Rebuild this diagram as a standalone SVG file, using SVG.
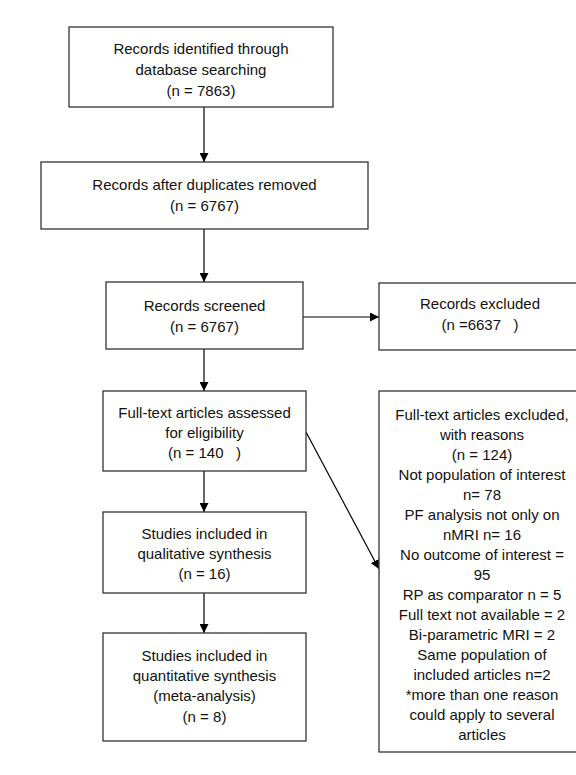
<svg xmlns="http://www.w3.org/2000/svg" width="576" height="775" viewBox="0 0 576 775">
<defs>
<marker id="ah" viewBox="0 0 10 10" refX="10" refY="5" markerWidth="9" markerHeight="9" markerUnits="userSpaceOnUse" orient="auto">
<path d="M0,0 L10,5 L0,10 Z" fill="#000"/>
</marker>
<style>
.box{fill:#fff;stroke:#333;stroke-width:1.3}
.t{font-family:"Liberation Sans",Arial,sans-serif;font-size:15px;fill:#111;text-anchor:middle}
.c{stroke:#000;stroke-width:1.2;fill:none;marker-end:url(#ah)}
</style>
</defs>
<rect width="576" height="775" fill="#fff"/>
<g id="connectors">
<line class="c" x1="204" y1="107" x2="204" y2="162"/>
<line class="c" x1="204" y1="229" x2="204" y2="282"/>
<line class="c" x1="303" y1="317" x2="379" y2="317"/>
<line class="c" x1="204" y1="349" x2="204" y2="391"/>
<line class="c" x1="204" y1="471" x2="204" y2="512"/>
<line class="c" x1="204" y1="593" x2="204" y2="633"/>
<line class="c" x1="306" y1="432" x2="379" y2="569"/>
</g>
<g id="identified">
<rect class="box" x="69" y="27" width="264" height="80"/>
<text class="t" x="201" y="54">Records identified through</text>
<text class="t" x="201" y="75">database searching</text>
<text class="t" x="201" y="96">(n = 7863)</text>
</g>
<g id="duplicates">
<rect class="box" x="41" y="162" width="327" height="67"/>
<text class="t" x="204.5" y="190">Records after duplicates removed</text>
<text class="t" x="204.5" y="211">(n = 6767)</text>
</g>
<g id="screened">
<rect class="box" x="106" y="282" width="197" height="67"/>
<text class="t" x="204.5" y="311">Records screened</text>
<text class="t" x="204.5" y="332">(n = 6767)</text>
</g>
<g id="excluded">
<rect class="box" x="379" y="283" width="210" height="67"/>
<text class="t" x="480" y="309">Records excluded</text>
<text class="t" x="480" y="330" xml:space="preserve">(n =6637   )</text>
</g>
<g id="fulltext">
<rect class="box" x="103" y="391" width="203" height="80"/>
<text class="t" x="204.5" y="418">Full-text articles assessed</text>
<text class="t" x="204.5" y="438">for eligibility</text>
<text class="t" x="204.5" y="458" xml:space="preserve">(n = 140   )</text>
</g>
<g id="qualitative">
<rect class="box" x="103" y="512" width="203" height="81"/>
<text class="t" x="204.5" y="539">Studies included in</text>
<text class="t" x="204.5" y="559">qualitative synthesis</text>
<text class="t" x="204.5" y="579">(n = 16)</text>
</g>
<g id="quantitative">
<rect class="box" x="103" y="633" width="203" height="108"/>
<text class="t" x="204.5" y="661">Studies included in</text>
<text class="t" x="204.5" y="681">quantitative synthesis</text>
<text class="t" x="204.5" y="701">(meta-analysis)</text>
<text class="t" x="204.5" y="722">(n = 8)</text>
</g>
<g id="reasons">
<rect class="box" x="379" y="391" width="210" height="361"/>
<text class="t" x="482" y="420">Full-text articles excluded,</text>
<text class="t" x="482" y="440">with reasons</text>
<text class="t" x="482" y="460">(n = 124)</text>
<text class="t" x="482" y="480">Not population of interest</text>
<text class="t" x="482" y="500">n= 78</text>
<text class="t" x="482" y="520">PF analysis not only on</text>
<text class="t" x="482" y="540">nMRI n= 16</text>
<text class="t" x="482" y="560">No outcome of interest =</text>
<text class="t" x="482" y="580">95</text>
<text class="t" x="482" y="600">RP as comparator n = 5</text>
<text class="t" x="482" y="620">Full text not available = 2</text>
<text class="t" x="482" y="640">Bi-parametric MRI = 2</text>
<text class="t" x="482" y="660">Same population of</text>
<text class="t" x="482" y="680">included articles n=2</text>
<text class="t" x="482" y="700">*more than one reason</text>
<text class="t" x="482" y="720">could apply to several</text>
<text class="t" x="482" y="740">articles</text>
</g>
</svg>
